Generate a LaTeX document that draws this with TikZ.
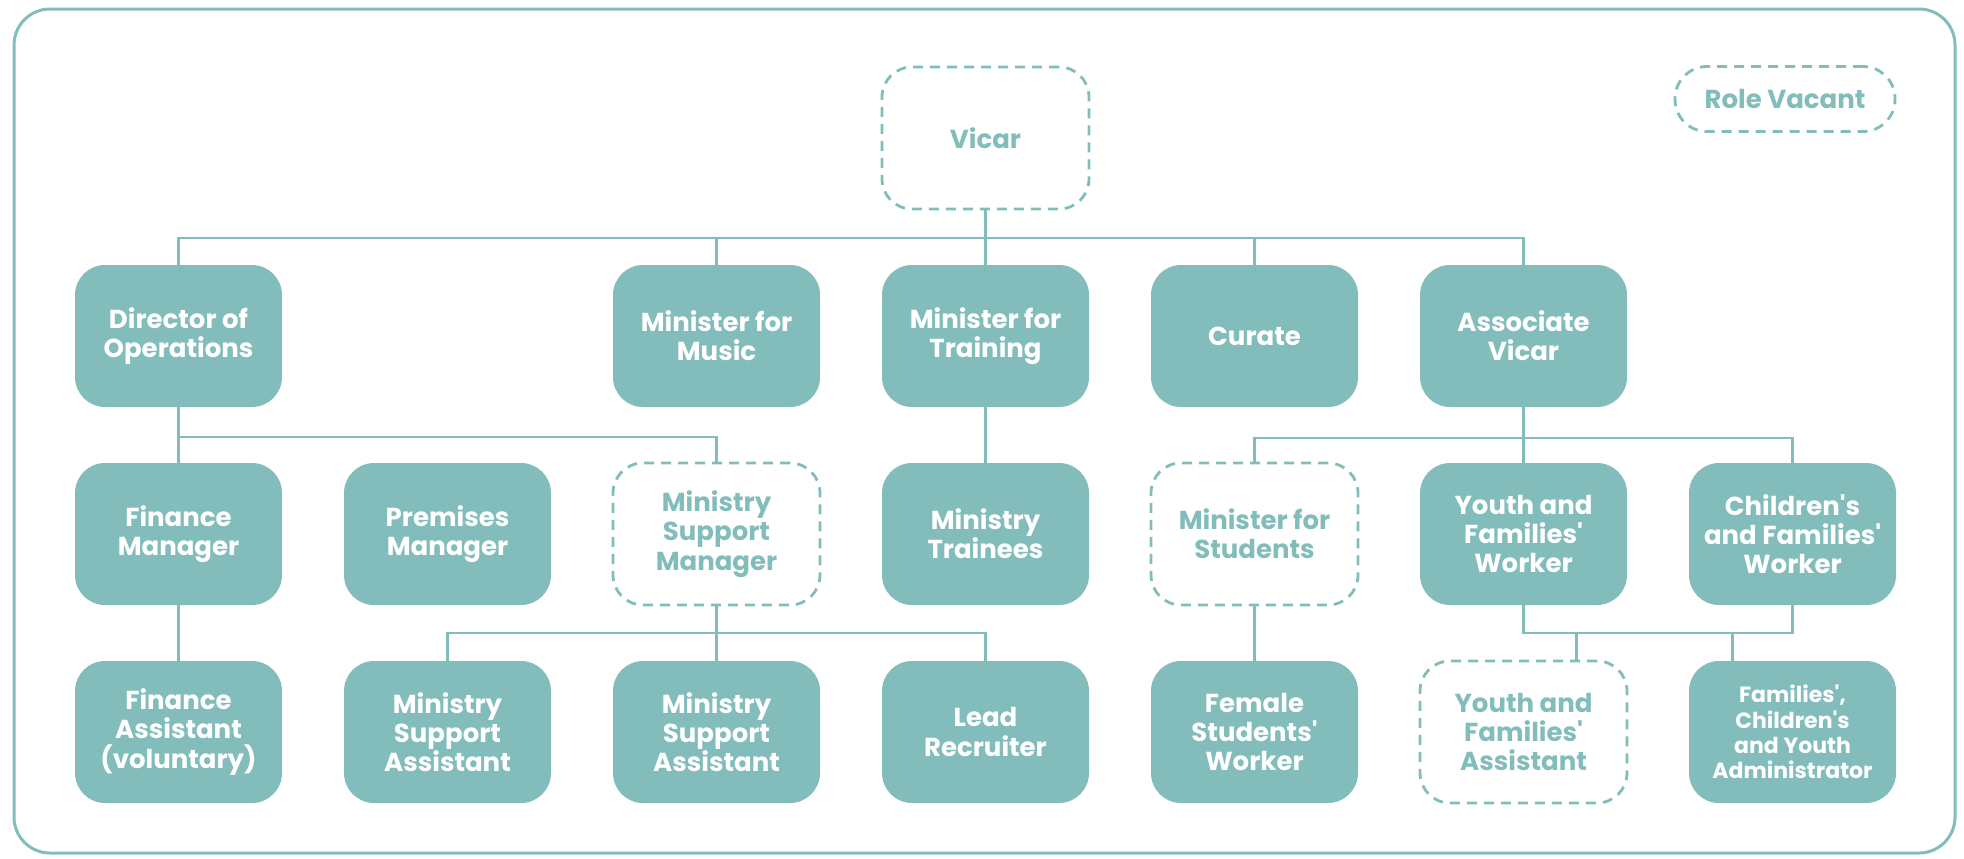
\documentclass[tikz,border=0pt]{standalone}
\usepackage{fontspec}
\setmainfont{Poppins}[Ligatures=TeXOff]
\usetikzlibrary{positioning}
\definecolor{tealgrey}{RGB}{130,189,188}
\tikzstyle{role}=[rectangle,fill=tealgrey,text=white,rounded corners=15pt,minimum width=103.5pt,minimum height=71pt,inner sep=0pt,align=center,font=\bfseries\fontsize{13}{14.6}\selectfont]
\tikzstyle{vacant}=[role,fill=white,draw=tealgrey,text=tealgrey,line width=1.4pt,dash pattern=on 5pt off 3.5pt]
\tikzstyle{link}=[draw=tealgrey,line width=1.4pt]

\begin{document}
\begin{tikzpicture}[node distance=134.5pt]
    \useasboundingbox (0,0) rectangle (982pt,-429pt);
    \draw[link,line width=1.5pt,rounded corners=18pt] (7pt,-4.5pt) rectangle (977.5pt,-426.5pt);
    % top row
    \node[role] (dir) at (89.25pt,-168pt) {Director of\\Operations};
    \node[role, right of=dir, node distance=269pt] (music) {Minister for\\Music};
    \node[role, right of=music] (train) {Minister for\\Training};
    \node[role, right of=train] (curate) {Curate};
    \node[role, right of=curate] (assoc) {Associate\\Vicar};
    \node[vacant, above of=train, node distance=99pt] (vicar) {Vicar};
    \node[vacant, rounded corners=16pt, minimum width=110pt, minimum height=32.5pt] (key) at (892.5pt,-49.5pt) {Role Vacant};
    % middle row
    \node[role, below of=dir, node distance=99pt] (finm) {Finance\\Manager};
    \node[role, right of=finm] (prem) {Premises\\Manager};
    \node[vacant, right of=prem] (msm) {Ministry\\Support\\Manager};
    \node[role, below of=train, node distance=99pt] (trainees) {Ministry\\Trainees};
    \node[vacant, below of=curate, node distance=99pt] (mstud) {Minister for\\Students};
    \node[role, below of=assoc, node distance=99pt] (yfw) {Youth and\\Families'\\Worker};
    \node[role, right of=yfw] (cfw) {Children's\\and Families'\\Worker};
    % bottom row
    \node[role, below of=finm, node distance=99pt] (fina) {Finance\\Assistant\\(voluntary)};
    \node[role, below of=prem, node distance=99pt] (msa1) {Ministry\\Support\\Assistant};
    \node[role, below of=msm, node distance=99pt] (msa2) {Ministry\\Support\\Assistant};
    \node[role, below of=trainees, node distance=99pt] (lead) {Lead\\Recruiter};
    \node[role, below of=mstud, node distance=99pt] (fsw) {Female\\Students'\\Worker};
    \node[vacant, below of=yfw, node distance=99pt] (yfa) {Youth and\\Families'\\Assistant};
    \node[role, below of=cfw, node distance=99pt, font=\bfseries\fontsize{11}{12.6}\selectfont] (admin) {Families',\\Children's\\and Youth\\Administrator};
    % bus points
    \coordinate[below of=vicar, node distance=50pt] (vbus);
    \coordinate[below of=dir, node distance=50.5pt] (dbus);
    \coordinate[below of=msm, node distance=49.5pt] (mbus);
    \coordinate[below of=assoc, node distance=51pt] (abus);
    \coordinate[below of=yfw, node distance=49.5pt] (ybus);
    \coordinate[right of=ybus, node distance=26.5pt] (yfadrop);
    \coordinate[left of=ybus, node distance=-104.5pt] (admdrop);
    \draw[link] (vicar) -- (train);
    \draw[link] (vbus) -| (dir);
    \draw[link] (vbus) -| (music);
    \draw[link] (vbus) -| (curate);
    \draw[link] (vbus) -| (assoc);
    \draw[link] (dir) -- (finm);
    \draw[link] (dbus) -| (msm);
    \draw[link] (finm) -- (fina);
    \draw[link] (msm) -- (msa2);
    \draw[link] (mbus) -| (msa1);
    \draw[link] (mbus) -| (lead);
    \draw[link] (train) -- (trainees);
    \draw[link] (assoc) -- (yfw);
    \draw[link] (abus) -| (mstud);
    \draw[link] (abus) -| (cfw);
    \draw[link] (mstud) -- (fsw);
    \draw[link] (yfw) -- (ybus) -| (cfw);
    \draw[link] (yfadrop) -- (yfadrop |- yfa.north);
    \draw[link] (admdrop) -- (admdrop |- admin.north);
\end{tikzpicture}
\end{document}
